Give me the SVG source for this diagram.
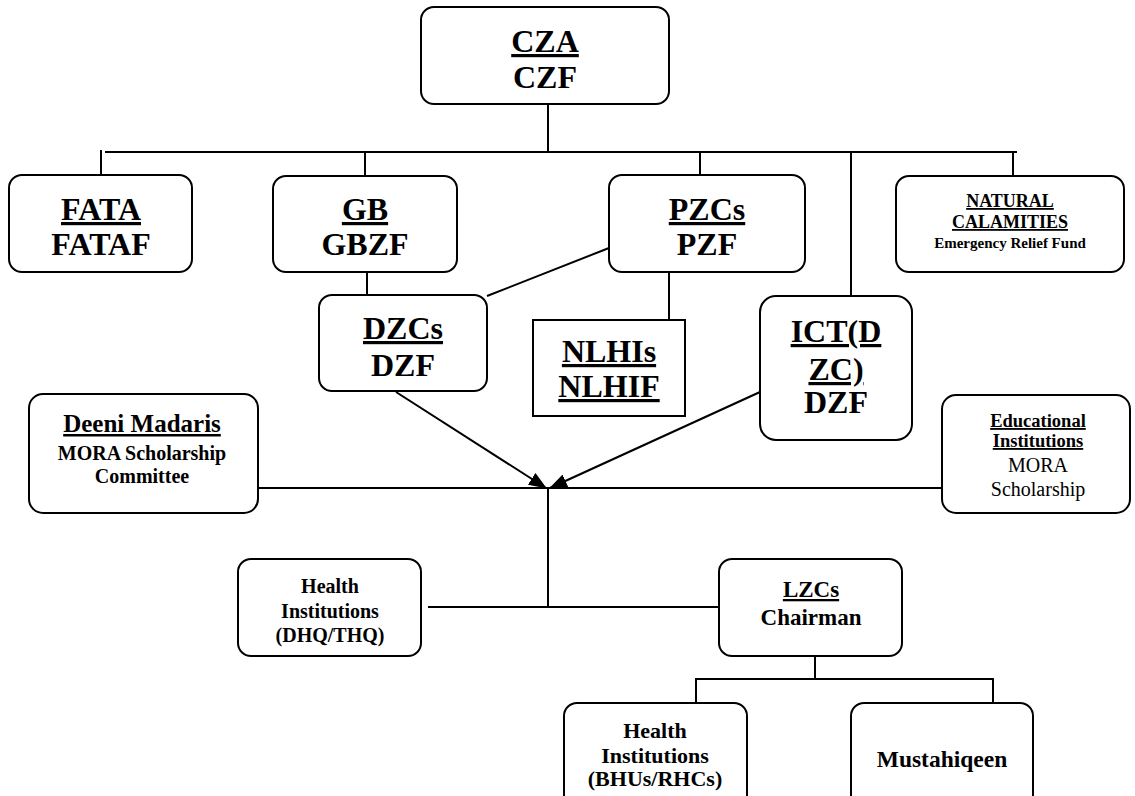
<svg xmlns="http://www.w3.org/2000/svg" width="1135" height="796" viewBox="0 0 1135 796">
<style>
.box{fill:#fff;stroke:#000;stroke-width:2}
.c{fill:none;stroke:#000;stroke-width:2}
text{font-family:"Liberation Serif","Times New Roman",serif;font-weight:bold;text-anchor:middle;fill:#000}
.big{font-size:32px}
.u{text-decoration:underline}
.reg{font-weight:normal}
</style>
<defs>
<marker id="ah" markerWidth="18" markerHeight="14" refX="17" refY="7" orient="auto" markerUnits="userSpaceOnUse">
<path d="M0,0 L18,7 L0,14 Z" fill="#000"/>
</marker>
</defs>
<rect width="1135" height="796" fill="#fff"/>
<g id="connectors">
<path class="c" d="M548,104 V152"/>
<path class="c" d="M105,152 H1017"/>
<path class="c" d="M101,150 V175"/>
<path class="c" d="M365,152 V176"/>
<path class="c" d="M700,152 V175"/>
<path class="c" d="M851,152 V296"/>
<path class="c" d="M1013,152 V176"/>
<path class="c" d="M367,272 V295"/>
<path class="c" d="M609,248 L487,296"/>
<path class="c" d="M669,272 V320"/>
<path class="c" d="M396,392 L546,488" marker-end="url(#ah)"/>
<path class="c" d="M760,392 L550,488" marker-end="url(#ah)"/>
<path class="c" d="M258,488 H942"/>
<path class="c" d="M548,488 V607"/>
<path class="c" d="M428,607 H724"/>
<path class="c" d="M815,656 V679"/>
<path class="c" d="M696,679 H993"/>
<path class="c" d="M696,678 V703"/>
<path class="c" d="M993,678 V703"/>
</g>
<g id="cza">
<rect class="box" x="421" y="7" width="248" height="97" rx="13"/>
<text class="big u" x="545" y="52">CZA</text>
<text class="big" x="545" y="88">CZF</text>
</g>
<g id="fata">
<rect class="box" x="9" y="175" width="183" height="97" rx="13"/>
<text class="big u" x="101" y="220">FATA</text>
<text class="big" x="101" y="255">FATAF</text>
</g>
<g id="gb">
<rect class="box" x="273" y="176" width="184" height="96" rx="13"/>
<text class="big u" x="365" y="220">GB</text>
<text class="big" x="365" y="255">GBZF</text>
</g>
<g id="pzcs">
<rect class="box" x="609" y="175" width="196" height="97" rx="13"/>
<text class="big u" x="707" y="220">PZCs</text>
<text class="big" x="707" y="255">PZF</text>
</g>
<g id="natural">
<rect class="box" x="896" y="176" width="228" height="96" rx="13"/>
<text class="u" x="1010" y="207" font-size="18">NATURAL</text>
<text class="u" x="1010" y="228" font-size="18">CALAMITIES</text>
<text x="1010" y="248" font-size="15">Emergency Relief Fund</text>
</g>
<g id="dzcs">
<rect class="box" x="319" y="295" width="168" height="96" rx="13"/>
<text class="big u" x="403" y="339">DZCs</text>
<text class="big" x="403" y="376">DZF</text>
</g>
<g id="nlhis">
<rect class="box" x="533" y="320" width="152" height="96"/>
<text class="big u" x="609" y="362">NLHIs</text>
<text class="big u" x="609" y="397">NLHIF</text>
</g>
<g id="ict">
<rect class="box" x="760" y="296" width="152" height="144" rx="16"/>
<text class="big u" x="836" y="342">ICT(D</text>
<text class="big u" x="836" y="380">ZC)</text>
<text class="big" x="836" y="413">DZF</text>
</g>
<g id="deeni">
<rect class="box" x="29" y="394" width="229" height="119" rx="14"/>
<text class="u" x="142" y="432" font-size="25">Deeni Madaris</text>
<text x="142" y="460" font-size="20">MORA Scholarship</text>
<text x="142" y="483" font-size="20">Committee</text>
</g>
<g id="educational">
<rect class="box" x="942" y="395" width="188" height="118" rx="14"/>
<text class="u" x="1038" y="427" font-size="18.5">Educational</text>
<text class="u" x="1038" y="447" font-size="18.5">Institutions</text>
<text class="reg" x="1038" y="472" font-size="20">MORA</text>
<text class="reg" x="1038" y="496" font-size="20">Scholarship</text>
</g>
<g id="health-dhq">
<rect class="box" x="238" y="559" width="183" height="97" rx="13"/>
<text x="330" y="593" font-size="20">Health</text>
<text x="330" y="618" font-size="20">Institutions</text>
<text x="330" y="642" font-size="20">(DHQ/THQ)</text>
</g>
<g id="lzcs">
<rect class="box" x="719" y="559" width="183" height="97" rx="13"/>
<text class="u" x="811" y="597" font-size="23">LZCs</text>
<text x="811" y="625" font-size="23">Chairman</text>
</g>
<g id="health-bhu">
<rect class="box" x="564" y="703" width="183" height="110" rx="13"/>
<text x="655" y="738" font-size="22">Health</text>
<text x="655" y="763" font-size="22">Institutions</text>
<text x="655" y="786" font-size="22">(BHUs/RHCs)</text>
</g>
<g id="mustahiqeen">
<rect class="box" x="851" y="703" width="182" height="110" rx="13"/>
<text x="942" y="767" font-size="23.5">Mustahiqeen</text>
</g>
</svg>
